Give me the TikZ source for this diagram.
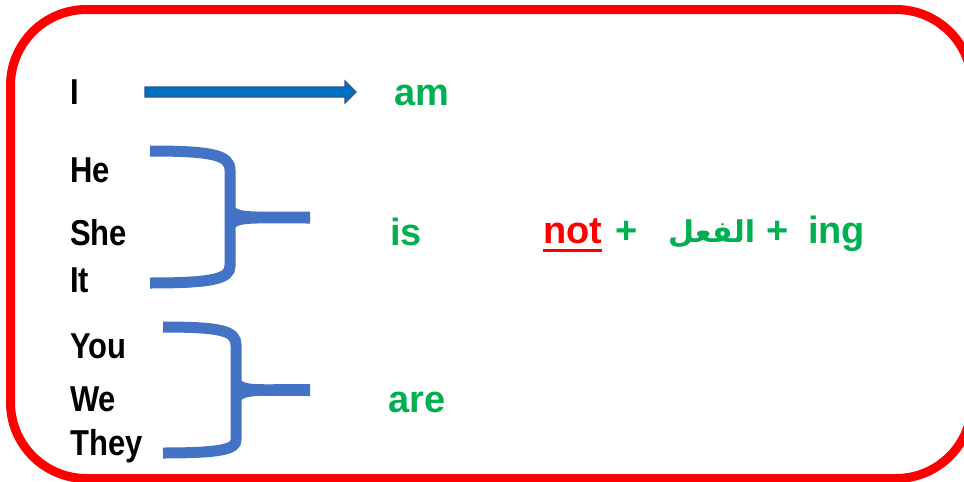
\documentclass[tikz,border=0pt]{standalone}
\usepackage{fontspec}
\setmainfont{Liberation Sans}
\newfontfamily\narrowfont[FakeStretch=0.86]{Liberation Sans}
\newfontfamily\arabicfont[Script=Arabic]{DejaVu Sans}
\TeXXeTstate=1
\usetikzlibrary{calc}
\definecolor{grn}{RGB}{0,176,80}
\definecolor{brc}{RGB}{68,114,196}
\definecolor{arf}{RGB}{0,112,192}
\definecolor{ard}{RGB}{47,82,143}
\begin{document}
\begin{tikzpicture}[x=1pt,y=-1pt,
  pron/.style={font=\narrowfont\bfseries\fontsize{36}{40}\selectfont, anchor=base west, inner sep=0pt},
  verb/.style={font=\bfseries\fontsize{38}{42}\selectfont, text=grn, anchor=base west, inner sep=0pt},
  bracestroke/.style={draw=brc, line width=11pt},
  bracearm/.style={fill=brc}]
\useasboundingbox (0,0) rectangle (964,482);
% frame
\draw[red, line width=9pt, rounded corners=76pt] (10.5,9.5) rectangle (972,478.5);
% pronouns
\node[pron] (i) at (70,104) {I};
\node[pron] (he) at (70,182) {He};
\node[pron] (she) at (70,245) {She};
\node[pron] (it) at (70,292) {It};
\node[pron] (you) at (70,358) {You};
\node[pron] (we) at (70,411) {We};
\node[pron] (they) at (70,455) {They};
% verbs
\node[verb] (am) at (394,105) {am};
\node[verb] (is) at (390,245) {is};
\node[verb] (are) at (388,412) {are};
% formula
\node[verb, text=red] (not) at (543,243) {not};
\draw[red, line width=3pt] ([yshift=-7.5pt]not.base west) -- ([yshift=-7.5pt]not.base east);
\node[verb] (p1) at (615,243) {+};
\node[font=\arabicfont\bfseries\fontsize{30}{40}\selectfont, text=grn, anchor=base west, inner sep=0pt] (fi) at (668,242) {\beginR الفعل\endR};
\node[verb] (p2) at (766,243) {+};
\node[verb] (ing) at (808,243) {ing};
% arrow I -> am
\coordinate (as) at (145,92);
\coordinate (ae) at (356,92);
\filldraw[fill=arf, draw=ard, line width=1.2pt]
  ($(as)+(0,-5)$) -- ($(ae)+(-11,-5)$) -- ($(ae)+(-11,-11)$) -- (ae)
  -- ($(ae)+(-11,11)$) -- ($(ae)+(-11,5)$) -- ($(as)+(0,5)$) -- cycle;
% brace 1
\draw[bracestroke] (150,151) .. controls (212,151) and (230,155) .. (230,170) -- (230,266) .. controls (230,279) and (212,283) .. (150,283);
\fill[bracearm] (234,206) .. controls (238,213) and (255,211.5) .. (310,211.5) -- (310,223.5) .. controls (255,223.5) and (238,222) .. (234,229) -- cycle;
% brace 2
\draw[bracestroke] (163,327) .. controls (222,327) and (236,331) .. (236,345) -- (236,440) .. controls (236,449) and (222,453) .. (163,453);
\fill[bracearm] (240,379) .. controls (244,386) and (260,384) .. (310,384) -- (310,396) .. controls (260,396) and (244,394) .. (240,402) -- cycle;
\end{tikzpicture}
\end{document}
